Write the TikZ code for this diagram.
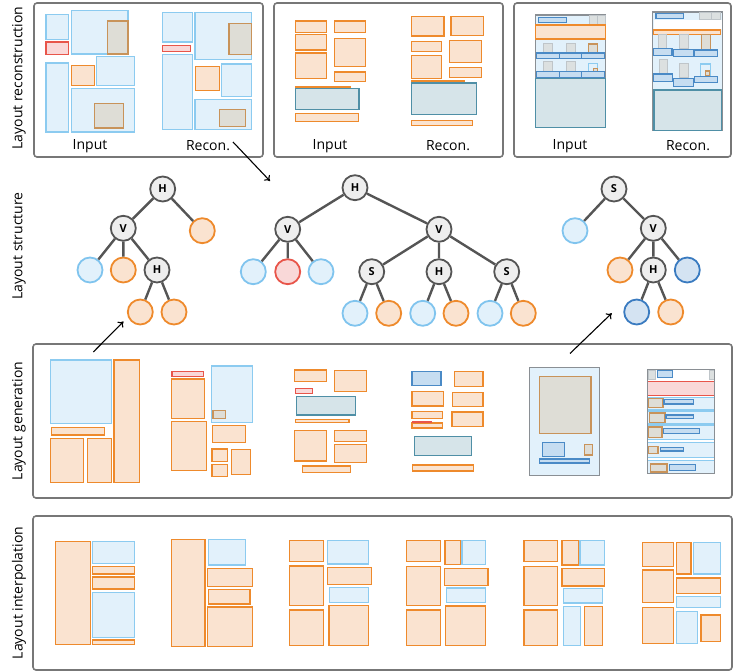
\documentclass[tikz,border=0pt]{standalone}
\usepackage{fontspec}
\setmainfont{Open Sans}
\usetikzlibrary{arrows.meta}
\definecolor{oS}{HTML}{EE8A2C}
\definecolor{oF}{HTML}{FAE3D0}
\definecolor{bS}{HTML}{8CCBF0}
\definecolor{bF}{HTML}{E2F1FB}
\definecolor{rS}{HTML}{E8554A}
\definecolor{rF}{HTML}{F9D8D8}
\definecolor{gF}{HTML}{DEDDD6}
\definecolor{gS}{HTML}{C8935A}
\definecolor{qS}{HTML}{BFC5C9}
\definecolor{qF}{HTML}{DCE0E0}
\definecolor{tS}{HTML}{4F8FA6}
\definecolor{tF}{HTML}{D6E4E9}
\definecolor{dS}{HTML}{4A8AC6}
\definecolor{dF}{HTML}{C6DDF1}
\definecolor{fS}{HTML}{8A8F94}
\definecolor{pS}{HTML}{777777}
\definecolor{eS}{HTML}{555555}
\definecolor{nF}{HTML}{EEEEEE}
\definecolor{lbS}{HTML}{80C4EE}
\definecolor{ldS}{HTML}{3A7BC0}
\definecolor{ldF}{HTML}{D4E3F2}
\newcommand\bx[5]{\path[#1] (#2,#3) rectangle (#4,#5);}
\begin{document}
\begin{tikzpicture}[x=1pt,y=-1pt,
  ob/.style={draw=oS,fill=oF,line width=1.2pt},
  bb/.style={draw=bS,fill=bF,line width=1.2pt},
  rb/.style={draw=rS,fill=rF,line width=1.2pt},
  gb/.style={draw=gS,fill=gF,line width=1.2pt},
  qb/.style={draw=qS,fill=qF,line width=1pt},
  tb/.style={draw=tS,fill=tF,line width=1.2pt},
  db/.style={draw=dS,fill=dF,line width=1.2pt},
  fb/.style={draw=fS,fill=bF,line width=1.2pt},
  wb/.style={draw=fS,fill=white,line width=1.2pt},
  panel/.style={draw=pS,line width=1.6pt,rounded corners=3pt},
  sidelabel/.style={rotate=90,font=\fontsize{14}{14}\selectfont},
  caption/.style={font=\fontsize{14}{14}\selectfont},
  inner/.style={circle,draw=eS,fill=nF,line width=1.8pt,minimum size=25pt,inner sep=0pt,font=\bfseries\fontsize{11}{11}\selectfont},
  leafo/.style={circle,draw=oS,fill=oF,line width=1.8pt,minimum size=25pt,inner sep=0pt},
  leafb/.style={circle,draw=lbS,fill=bF,line width=1.8pt,minimum size=25pt,inner sep=0pt},
  leafr/.style={circle,draw=rS,fill=rF,line width=1.8pt,minimum size=25pt,inner sep=0pt},
  leafd/.style={circle,draw=ldS,fill=ldF,line width=1.8pt,minimum size=25pt,inner sep=0pt},
  edge/.style={draw=eS,line width=2.4pt},
  arr/.style={draw=black,line width=1.1pt,-{To[length=5pt,width=8pt]}}
]
\useasboundingbox (0,0) rectangle (733,671);
% side labels
\node[sidelabel] (l1) at (19,78) {Layout reconstruction};
\node[sidelabel] (l2) at (19,246) {Layout structure};
\node[sidelabel] (l3) at (19,421) {Layout generation};
\node[sidelabel] (l4) at (19,593) {Layout interpolation};
% panels
\draw[panel] (34,3) rectangle (263,157);
\draw[panel] (274,3) rectangle (503,157);
\draw[panel] (514,3) rectangle (731,157);
\draw[panel] (33,344) rectangle (732,498);
\draw[panel] (33,516) rectangle (732,670);
% captions
\node[caption] (c1) at (90,146) {Input};
\node[caption] (c2) at (208,146) {Recon.};
\node[caption] (c3) at (330,146) {Input};
\node[caption] (c4) at (448,146) {Recon.};
\node[caption] (c5) at (570,146) {Input};
\node[caption] (c6) at (688,146) {Recon.};
% ---------- panel 1
\bx{bb}{46}{14.3}{68.7}{39.3}
\bx{rb}{46}{42}{68.7}{54.3}
\bx{bb}{71.3}{10.7}{128}{54}
\bx{gb}{107.3}{21}{128}{54}
\bx{bb}{46}{63}{68.7}{132}
\bx{ob}{71.3}{65.3}{94.7}{85.3}
\bx{bb}{96.7}{56.7}{134.7}{85.3}
\bx{bb}{71.3}{88.3}{134.7}{132}
\bx{gb}{94.7}{103.3}{123.7}{128}
\bx{bb}{162.7}{12.7}{192.7}{42}
\bx{rb}{162.7}{45.3}{190.7}{51.7}
\bx{bb}{162.7}{54.3}{192.7}{129.3}
\bx{bb}{195}{12.7}{251.7}{59.3}
\bx{gb}{229}{23.3}{251.7}{54.3}
\bx{ob}{195.3}{66.3}{219.7}{90.7}
\bx{bb}{221.3}{64}{251.7}{96.3}
\bx{bb}{195}{99.7}{251.7}{129.3}
\bx{gb}{219.3}{109.3}{245.3}{126.7}
% ---------- panel 2
\bx{ob}{295.3}{21}{326.3}{32.3}
\bx{ob}{295.3}{34.3}{326.3}{50}
\bx{ob}{295.3}{53}{326.3}{78.7}
\bx{ob}{334.3}{21}{365.7}{32.3}
\bx{ob}{334.3}{38.3}{365.7}{66.3}
\bx{ob}{334.3}{72}{365.7}{81.3}
\bx{ob}{295.3}{86.3}{350.3}{87.6}
\bx{tb}{295.3}{88.3}{359}{109.3}
\bx{ob}{295.3}{113.3}{358.7}{121.3}
\bx{ob}{411.3}{16.3}{444}{36}
\bx{ob}{451}{16.3}{483.7}{35.3}
\bx{ob}{411.3}{41.3}{441.3}{51.7}
\bx{ob}{449.7}{40.3}{481.7}{62.7}
\bx{ob}{411.3}{55.3}{441.3}{78.7}
\bx{ob}{449.7}{67.3}{481.7}{77.3}
\bx{ob}{412}{81}{464}{82.2}
\bx{tb}{411.3}{83}{476.3}{114.3}
\bx{ob}{411.3}{120.3}{472.7}{125.7}
% ---------- panel 3 input
\bx{fb}{535.7}{15}{605.7}{127.3}
\bx{db}{538.3}{17.7}{566.7}{22.7}
\bx{qb}{589}{16}{597.3}{25}
\bx{qb}{597.3}{16}{605.7}{25}
\bx{ob}{535.7}{25}{605.7}{39}
\bx{qb}{543.3}{44}{552.7}{53}
\bx{qb}{566}{44}{575.3}{53}
\bx{gb}{588.3}{44}{597.7}{53}
\bx{db}{536.7}{53}{559.3}{58.7}
\bx{db}{559.3}{53}{581.7}{58.7}
\bx{db}{581.7}{53}{604.7}{58.7}
\bx{qb}{543.3}{62}{552.7}{71.3}
\bx{qb}{566}{62}{575.3}{71.3}
\bx{bb}{588.3}{63.3}{597.7}{71.3}
\bx{gb}{593.3}{68.3}{597.3}{71.3}
\bx{db}{536.7}{71.3}{559.3}{77.3}
\bx{db}{559.3}{71.3}{581.7}{77.3}
\bx{db}{581.7}{71.3}{604.7}{77.3}
\bx{tb}{535.7}{78.7}{605.7}{127.3}
% ---------- panel 3 recon
\bx{fb}{652.7}{12}{722.3}{130.7}
\bx{db}{656}{13.3}{683.3}{18.3}
\bx{qb}{699.3}{12.7}{711.7}{19.3}
\bx{qb}{711.7}{12.7}{720}{19.3}
\path[fill=white] (653.5,20.3) rectangle (721.5,29.5);
\bx{ob}{653.3}{30}{720.7}{34.7}
\bx{qb}{658.3}{34.7}{666.7}{48.3}
\bx{qb}{679.3}{34.7}{688.3}{48.3}
\bx{gb}{701.7}{34.7}{710.7}{50}
\bx{db}{653.3}{48.3}{672}{55.7}
\bx{db}{673.3}{49.3}{693.7}{56.7}
\bx{db}{694.3}{50}{717.3}{56.7}
\bx{qb}{659}{60}{667.7}{74}
\bx{qb}{679.3}{63.3}{688.7}{77.3}
\bx{bb}{700.3}{64}{710.3}{76.7}
\bx{gb}{705.3}{71}{709.7}{76}
\bx{db}{653.3}{74}{672.7}{81.3}
\bx{db}{673.3}{78.3}{693.7}{86.7}
\bx{db}{694.3}{76.3}{717.3}{82.7}
\bx{tb}{654}{90}{721.7}{130.7}
% ---------- trees
% left tree
\node[inner] (a1) at (162.7,189) {H};
\node[inner] (a2) at (123.3,228.3) {V};
\node[leafo] (a3) at (202.3,230.7) {};
\node[leafb] (a4) at (90,270) {};
\node[leafo] (a5) at (123.3,270) {};
\node[inner] (a6) at (157,270) {H};
\node[leafo] (a7) at (140.3,312) {};
\node[leafo] (a8) at (174,312) {};
\draw[edge] (a1)--(a2) (a1)--(a3) (a2)--(a4) (a2)--(a5) (a2)--(a6) (a6)--(a7) (a6)--(a8);
% middle tree
\node[inner] (b1) at (355,187.7) {H};
\node[inner] (b2) at (287.7,229.3) {V};
\node[inner] (b3) at (439,229.3) {V};
\node[leafb] (b4) at (253.3,271.7) {};
\node[leafr] (b5) at (287.7,271.7) {};
\node[leafb] (b6) at (321,271.7) {};
\node[inner] (b7) at (371.7,271.7) {S};
\node[inner] (b8) at (439,271.7) {H};
\node[inner] (b9) at (506.7,271.7) {S};
\node[leafb] (b10) at (355,313.3) {};
\node[leafo] (b11) at (388.7,313.3) {};
\node[leafb] (b12) at (422.7,313.3) {};
\node[leafo] (b13) at (456,313.3) {};
\node[leafb] (b14) at (490,313.3) {};
\node[leafo] (b15) at (523.3,313.3) {};
\draw[edge] (b1)--(b2) (b1)--(b3) (b2)--(b4) (b2)--(b5) (b2)--(b6)
  (b3)--(b7) (b3)--(b8) (b3)--(b9) (b7)--(b10) (b7)--(b11) (b8)--(b12) (b8)--(b13) (b9)--(b14) (b9)--(b15);
% right tree
\node[inner] (c1n) at (614,189) {S};
\node[leafb] (c2n) at (575,230.7) {};
\node[inner] (c3n) at (653.3,228.3) {V};
\node[leafo] (c4n) at (620,270) {};
\node[inner] (c5n) at (653.3,270) {H};
\node[leafd] (c6n) at (687.3,270) {};
\node[leafd] (c7n) at (636.7,312) {};
\node[leafo] (c8n) at (670.7,312) {};
\draw[edge] (c1n)--(c2n) (c1n)--(c3n) (c3n)--(c4n) (c3n)--(c5n) (c3n)--(c6n) (c5n)--(c7n) (c5n)--(c8n);
% arrows
\coordinate (p1) at (233,142);
\coordinate (p2) at (270,181);
\coordinate (p3) at (93.3,352);
\coordinate (p4) at (123.5,321.5);
\coordinate (p5) at (570,353.5);
\coordinate (p6) at (611.7,313.3);
\draw[arr] (p1)--(p2);
\draw[arr] (p3)--(p4);
\draw[arr] (p5)--(p6);
% ---------- generation
\bx{bb}{50.7}{360}{111.7}{423.7}
\bx{ob}{114}{360}{139.3}{482.7}
\bx{ob}{51.3}{427.3}{104.7}{435}
\bx{ob}{50.7}{438.3}{83.3}{482.7}
\bx{ob}{87.3}{438.3}{111.7}{482.7}
\bx{rb}{172}{371.7}{203.3}{376.7}
\bx{ob}{171.7}{379}{204.7}{418.7}
\bx{bb}{211.7}{366}{252.3}{422.3}
\bx{gb}{213}{410.7}{225.7}{418.7}
\bx{ob}{171.7}{421.3}{206.7}{470.3}
\bx{ob}{212.3}{425.7}{245.7}{442.3}
\bx{ob}{212}{449}{227.7}{461.7}
\bx{ob}{212}{464.3}{227.7}{476.3}
\bx{ob}{231.3}{449.7}{250.7}{474.3}
\bx{ob}{294.3}{370}{326.7}{381.7}
\bx{ob}{334.3}{370.3}{366.7}{391.7}
\bx{rb}{295.3}{388.7}{312.3}{393.7}
\bx{tb}{296.7}{396.7}{355.7}{415}
\bx{ob}{295.3}{419.3}{349}{422.7}
\bx{ob}{294.3}{430.3}{326.3}{461}
\bx{ob}{334.3}{430.3}{366.7}{441.3}
\bx{ob}{334.3}{444.3}{366.7}{462.7}
\bx{ob}{302.3}{466}{350.7}{472.3}
\bx{db}{412}{371.7}{441}{385.7}
\bx{ob}{454.3}{371.7}{483}{386.7}
\bx{ob}{412}{391.3}{443.7}{406}
\bx{ob}{452.3}{392.3}{483}{406.7}
\bx{ob}{412}{411.3}{442.7}{418.3}
\bx{ob}{412}{423}{442.7}{428}
\path[fill=rS] (412,420.8) rectangle (432,422.8);
\bx{ob}{452}{412}{483}{426.3}
\bx{tb}{414.3}{436.7}{471.3}{455.7}
\bx{ob}{412.7}{465}{473.7}{471}
\bx{fb}{529.3}{367.3}{599.3}{475.3}
\bx{gb}{539.3}{376.3}{591}{433.3}
\bx{db}{542.3}{442.3}{564.7}{456.7}
\bx{gb}{584.3}{444.3}{592.3}{455}
\bx{db}{539.3}{459}{589.7}{463}
\bx{wb}{647.7}{369.3}{714.7}{473.3}
\bx{qb}{648.3}{370.3}{655.7}{379.3}
\bx{qb}{709.3}{370.3}{714}{379.3}
\bx{db}{657.7}{370.3}{672.7}{377.3}
\bx{rb}{647.7}{381.3}{714.7}{395.3}
\bx{bb}{647.7}{397.3}{714.7}{409.7}
\bx{bb}{647.7}{411}{714.7}{423.3}
\bx{bb}{647.7}{425}{714.7}{439.3}
\bx{bb}{647.7}{442.3}{714.7}{457.3}
\bx{bb}{647.7}{460.7}{714.7}{473.3}
\draw[fS,line width=1.2pt] (647.7,369.3) rectangle (714.7,473.3);
\bx{gb}{648.7}{398.3}{663}{407.7}
\bx{db}{664}{399.3}{693.7}{404}
\bx{gb}{649.3}{413}{665}{422.7}
\bx{db}{666}{415}{693.7}{418.7}
\bx{gb}{648.7}{427}{662}{437.7}
\bx{db}{663.3}{428.3}{699.7}{433.7}
\bx{gb}{648.7}{446.3}{658}{453.3}
\bx{db}{660.3}{447.3}{683.7}{451}
\bx{gb}{650.3}{464}{667}{472}
\bx{db}{669.3}{464.3}{695.3}{470.3}
% ---------- interpolation
\bx{ob}{55.3}{541.3}{90.7}{644.7}
\bx{bb}{92.7}{541.3}{134.7}{563.3}
\bx{ob}{92.7}{566.3}{134.7}{574}
\bx{ob}{92.7}{577}{134.7}{589}
\bx{bb}{92.7}{592.3}{134.7}{637.3}
\bx{ob}{92.7}{640}{134.7}{644.7}
\bx{ob}{171.3}{539.3}{205}{646.7}
\bx{bb}{208.3}{539.3}{245.3}{565}
\bx{ob}{207.3}{568.7}{252.3}{586.3}
\bx{ob}{208.7}{589.3}{250}{604}
\bx{ob}{207.3}{607}{252.3}{646.7}
\bx{ob}{289.7}{540.3}{323.3}{561.7}
\bx{bb}{327.7}{540.3}{368.7}{564}
\bx{ob}{289.7}{566}{323.3}{605.3}
\bx{ob}{327.7}{567.3}{371.3}{584.7}
\bx{bb}{329.3}{587.3}{368.7}{602.3}
\bx{ob}{289.7}{610}{323.3}{645.7}
\bx{ob}{329}{605.3}{368.7}{645.7}
\bx{ob}{406.7}{540.3}{440.7}{561.7}
\bx{ob}{445}{540.3}{460.7}{564.3}
\bx{bb}{462}{540.3}{485.7}{564.3}
\bx{ob}{406.7}{566.3}{440.7}{605.3}
\bx{ob}{444.7}{568.3}{488}{585.3}
\bx{bb}{446.3}{588}{485.7}{602.3}
\bx{ob}{406.7}{610}{440.7}{645.7}
\bx{ob}{445.7}{606}{485.7}{645.7}
\bx{ob}{524}{540.3}{557.3}{561.7}
\bx{ob}{562}{540.3}{578.7}{565}
\bx{bb}{580}{540.3}{604.7}{565}
\bx{ob}{524}{566.3}{557.3}{605.3}
\bx{ob}{562}{568.3}{604.7}{586}
\bx{bb}{563.3}{588.3}{602.7}{603}
\bx{ob}{524}{610}{557.3}{645.7}
\bx{bb}{563.3}{606.3}{580.3}{645.7}
\bx{ob}{584.3}{606.3}{602.7}{645.7}
\bx{ob}{642.3}{542.3}{673.3}{566.3}
\bx{ob}{676.3}{542.3}{691}{574}
\bx{bb}{693.3}{542.3}{720.3}{574}
\bx{ob}{642.3}{570}{673.3}{602.3}
\bx{ob}{676.3}{578}{720.3}{593.3}
\bx{bb}{676.3}{596.3}{720.3}{607.7}
\bx{ob}{642.3}{607.3}{673.3}{643.3}
\bx{bb}{676.3}{611.7}{697.7}{643.3}
\bx{ob}{701}{615}{720.3}{641.3}
\end{tikzpicture}
\end{document}
